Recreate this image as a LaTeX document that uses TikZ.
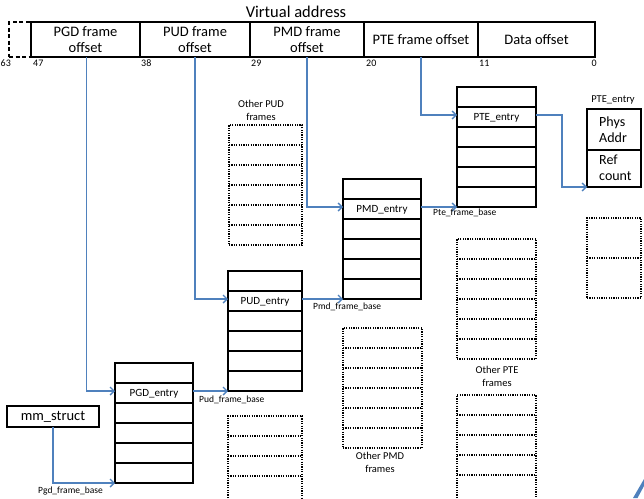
\documentclass[tikz,border=0pt]{standalone}
\usepackage{fontspec}
\setmainfont{Carlito}
\usetikzlibrary{arrows.meta,calc}
\definecolor{lblue}{RGB}{79,129,189}
\begin{document}
\begin{tikzpicture}[x=1pt,y=-1pt,
  cell/.style={draw, line width=1.5pt, inner sep=0pt, outer sep=0pt, anchor=north west, minimum height=35pt, align=center, font=\fontsize{14.5}{16.5}\selectfont},
  signcell/.style={draw, line width=1.5pt, dash pattern=on 4pt off 2.5pt, inner sep=0pt, outer sep=0pt, anchor=north west, minimum height=35pt, minimum width=22pt},
  bitno/.style={font=\fontsize{10}{11}\selectfont, inner sep=0pt},
  tab/.style={draw, line width=1.7pt, inner sep=0pt, outer sep=0pt, anchor=north west, minimum height=120pt},
  rowl/.style={line width=1.3pt},
  dotbox/.style={draw, line width=1.5pt, dash pattern=on 1.2pt off 1.2pt, inner sep=0pt, outer sep=0pt, anchor=north west},
  dotl/.style={line width=1.4pt, dash pattern=on 1.2pt off 1.2pt},
  entry/.style={font=\fontsize{11}{13}\selectfont, inner sep=0pt},
  note/.style={font=\fontsize{10.5}{13}\selectfont, align=center, inner sep=0pt},
  base/.style={font=\fontsize{9.5}{11}\selectfont, inner sep=0pt},
  conn/.style={draw=lblue, line width=1.4pt, -{Straight Barb[length=4pt,width=8pt]}},
]
\useasboundingbox (0,0) rectangle (644,498);

% header
\node[font=\fontsize{16.5}{18}\selectfont, inner sep=0pt] (va) at (296,12) {Virtual address};
\node[signcell] (sgn) at (9,22) {};
\node[cell, minimum width=109] (pgdc) at (31,22) {PGD frame\\offset};
\node[cell, minimum width=110] (pudc) at (140,22) {PUD frame\\offset};
\node[cell, minimum width=114] (pmdc) at (250,22) {PMD frame\\offset};
\node[cell, minimum width=114] (ptec) at (364,22) {PTE frame offset};
\node[cell, minimum width=117] (datc) at (478,22) {Data offset};

\node[bitno, anchor=west] (b63) at (0.5,63) {63};
\node[bitno, anchor=west] (b47) at (33,63) {47};
\node[bitno, anchor=west] (b38) at (141,63) {38};
\node[bitno, anchor=west] (b29) at (251,63) {29};
\node[bitno, anchor=west] (b20) at (366,63) {20};
\node[bitno, anchor=west] (b11) at (479,63) {11};
\node[bitno, anchor=east] (b0) at (597,63) {0};

% tables
\node[tab, minimum width=78] (pgd) at (115,363) {};
\node[tab, minimum width=74] (pud) at (228,271) {};
\node[tab, minimum width=78] (pmd) at (343,179) {};
\node[tab, minimum width=79] (pte) at (457,87) {};
\foreach \t in {pgd,pud,pmd,pte}
  \foreach \i in {1,...,5}
    \draw[rowl] ($(\t.north west)+(0,20*\i)$) -- ($(\t.north east)+(0,20*\i)$);
\node[entry] (pgde) at ($(pgd.north)+(0,31)$) {PGD\_entry};
\node[entry] (pude) at ($(pud.north)+(0,31)$) {PUD\_entry};
\node[entry] (pmde) at ($(pmd.north)+(0,31)$) {PMD\_entry};
\node[entry] (ptee) at ($(pte.north)+(0,31)$) {PTE\_entry};

% other frames
\node[dotbox, minimum width=73, minimum height=120] (opud) at (229,125) {};
\node[dotbox, minimum width=79, minimum height=120] (opmd) at (343,328) {};
\node[dotbox, minimum width=79, minimum height=120] (opte) at (457,239) {};
\foreach \t in {opud,opmd,opte}
  \foreach \i in {1,...,5}
    \draw[dotl] ($(\t.north west)+(0,20*\i)$) -- ($(\t.north east)+(0,20*\i)$);
\node[note] (opudl) at (261,110) {Other PUD\\frames};
\node[note] (opmdl) at (380,462.5) {Other PMD\\frames};
\node[note] (optel) at (497,376.5) {Other PTE\\frames};

\node[dotbox, minimum width=54, minimum height=80] (ophys) at (587,218) {};
\draw[dotl] ($(ophys.north west)+(0,40)$) -- ($(ophys.north east)+(0,40)$);

\draw[dotl] (228,498) -- (228,416) -- (302,416) -- (302,498);
\foreach \yy in {436,456,476} \draw[dotl] (228,\yy) -- (302,\yy);
\draw[dotl] (457,498) -- (457,395) -- (536,395) -- (536,498);
\foreach \yy in {415,435,455,475} \draw[dotl] (457,\yy) -- (536,\yy);

% mm_struct
\node[draw, line width=1.7pt, minimum width=92, minimum height=21, inner sep=0pt, outer sep=0pt, anchor=north west, font=\fontsize{14.5}{16}\selectfont] (mm) at (7,406) {mm\_struct};

% PTE entry box
\node[font=\fontsize{10.5}{12}\selectfont, inner sep=0pt] (pentl) at (613,100) {PTE\_entry};
\node[draw, line width=1.7pt, minimum width=54, minimum height=78, inner sep=0pt, outer sep=0pt, anchor=north west] (pent) at (587,109) {};
\draw[line width=1.5pt] ($(pent.north west)+(0,41)$) -- ($(pent.north east)+(0,41)$);
\node[font=\fontsize{14}{16}\selectfont, align=left, anchor=west, inner sep=0pt] (phys) at (599,130) {Phys\\Addr};
\node[font=\fontsize{14}{16}\selectfont, align=left, anchor=west, inner sep=0pt] (refc) at (599,168) {Ref\\count};

% connectors
\draw[conn] ([xshift=1pt]pgdc.south) |- ($(pgd.north west)+(0,28)$);
\draw[conn] (pudc.south) |- ($(pud.north west)+(0,28)$);
\draw[conn] (pmdc.south) |- ($(pmd.north west)+(0,28)$);
\draw[conn] (ptec.south) |- ($(pte.north west)+(0,28)$);
\draw[conn] (mm.south) |- (pgd.south west);
\draw[conn] ($(pgd.north east)+(0,28)$) -- (pud.south west);
\draw[conn] ($(pud.north east)+(0,28)$) -- (pmd.south west);
\draw[conn] ($(pmd.north east)+(0,28)$) -- (pte.south west);
\draw[conn] ($(pte.north east)+(0,28)$) -- ++(26,0) |- (pent.south west);

\node[base, anchor=north west] (pgdb) at (38,487) {Pgd\_frame\_base};
\node[base, anchor=north west] (pudb) at (199,396) {Pud\_frame\_base};
\node[base, anchor=north west] (pmdb) at (313,303) {Pmd\_frame\_base};
\node[base, anchor=north west] (pteb) at (433,209) {Pte\_frame\_base};

% corner decoration
\fill[lblue] (633,498) -- (644,479) -- (644,486) -- (637.5,498) -- cycle;
\end{tikzpicture}
\end{document}
